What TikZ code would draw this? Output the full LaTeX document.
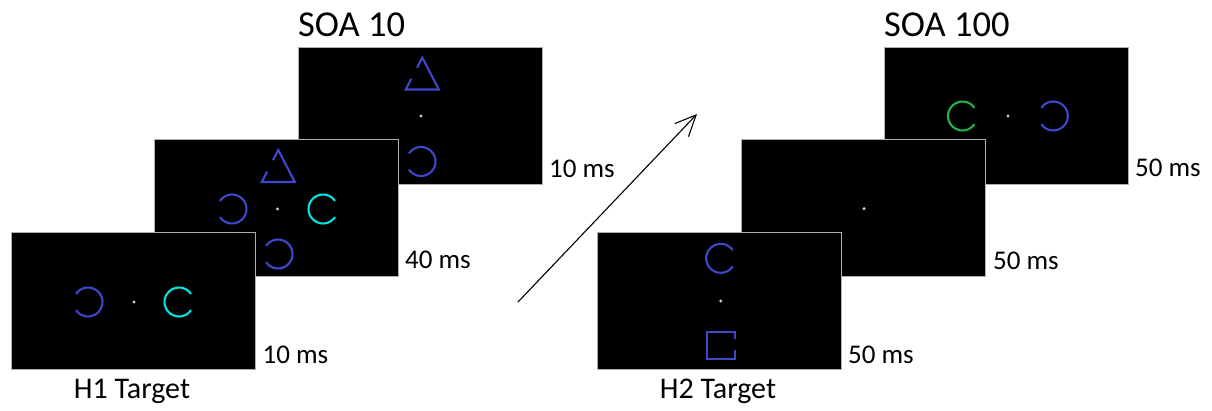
\documentclass[tikz,border=0pt]{standalone}
\usepackage{fontspec}
\setmainfont{Carlito}
\usetikzlibrary{arrows.meta,calc}
\definecolor{blueS}{RGB}{63,72,204}
\definecolor{cyanS}{RGB}{0,228,228}
\definecolor{greenS}{RGB}{34,177,76}
\definecolor{dotc}{RGB}{205,205,205}
\definecolor{scrgray}{RGB}{175,175,175}
\newcommand\ringgapR[3]{\draw[ring,#1] (#2,#3) ++(34:14.5) arc[start angle=34,end angle=326,radius=14.5];}
\newcommand\ringgapL[3]{\draw[ring,#1] (#2,#3) ++(-146:14.5) arc[start angle=-146,end angle=146,radius=14.5];}
\newcommand\gaptri[2]{\draw[ring,blueS] ({#1-9.8},{#2-36.6}) -- ({#1-15.2},{#2-26}) -- ({#1+17.8},{#2-26}) -- ({#1+1.3},{#2-58}) -- ({#1-4},{#2-47.8});}
\newcommand\fixdot[2]{\fill[dotc] (#1,#2) circle[radius=1.7];}
\begin{document}
\begin{tikzpicture}[x=1pt,y=-1pt,
  screen/.style={draw=scrgray, fill=black, line width=0.8pt, minimum width=244pt, minimum height=137pt, inner sep=0pt},
  ring/.style={line width=2.1pt},
  lbl/.style={font=\fontsize{27}{30}\selectfont, anchor=base west, inner sep=0pt},
  ttl/.style={font=\fontsize{36.5}{40}\selectfont, anchor=base west, inner sep=0pt},
  tgt/.style={font=\fontsize{30}{34}\selectfont, anchor=base, inner sep=0pt}
]
\useasboundingbox (0,0) rectangle (1212,410);

% ---------- SOA 10 (left stack) ----------
\node[screen] (scrC) at (420.5,115.5) {};
\gaptri{421}{115.5}
\fixdot{421}{116}
\ringgapL{blueS}{421}{161.5}

\node[screen] (scrB) at (276.5,208) {};
\gaptri{277}{208}
\fixdot{277.5}{209}
\ringgapL{blueS}{232}{209}
\ringgapR{cyanS}{323}{209}
\ringgapL{blueS}{278}{254}

\node[screen] (scrA) at (133,301) {};
\fixdot{134}{302}
\ringgapL{blueS}{88}{302}
\ringgapR{cyanS}{179}{302}

\node[ttl] (soa10) at (298,36.7) {SOA 10};
\node[lbl] (tC) at ([xshift=6pt,yshift=7pt]scrC.south east) {10 ms};
\node[lbl] (tB) at ([xshift=6pt,yshift=8pt]scrB.south east) {40 ms};
\node[lbl] (tA) at ([xshift=7pt,yshift=6pt]scrA.south east) {10 ms};
\node[tgt] (h1) at (132,398) {H1 Target};

% ---------- arrow ----------
\coordinate (arrS) at (518,302);
\coordinate (arrE) at (697,114);
\draw[line width=1.1pt, -{Straight Barb[length=21pt,width=19pt,line width=1.1pt]}] (arrS) -- (arrE);

% ---------- SOA 100 (right stack) ----------
\node[screen] (scrF) at (1006.5,115.5) {};
\fixdot{1008}{116}
\ringgapR{greenS}{962.5}{116}
\ringgapL{blueS}{1053.3}{116}

\node[screen] (scrE) at (863.5,208) {};
\fixdot{864}{208.7}

\node[screen] (scrD) at (719.5,300.5) {};
\fixdot{720.7}{301}
\ringgapR{blueS}{720.7}{258.3}
\draw[ring,blueS] (735,339) -- (735,332) -- (707,332) -- (707,359) -- (735,359) -- (735,350);

\node[ttl] (soa100) at (884,36.7) {SOA 100};
\node[lbl] (tF) at ([xshift=6pt,yshift=8pt]scrF.south east) {50 ms};
\node[lbl] (tE) at ([xshift=7pt,yshift=7pt]scrE.south east) {50 ms};
\node[lbl] (tD) at ([xshift=6pt,yshift=6pt]scrD.south east) {50 ms};
\node[tgt] (h2) at (718,398) {H2 Target};
\end{tikzpicture}
\end{document}
